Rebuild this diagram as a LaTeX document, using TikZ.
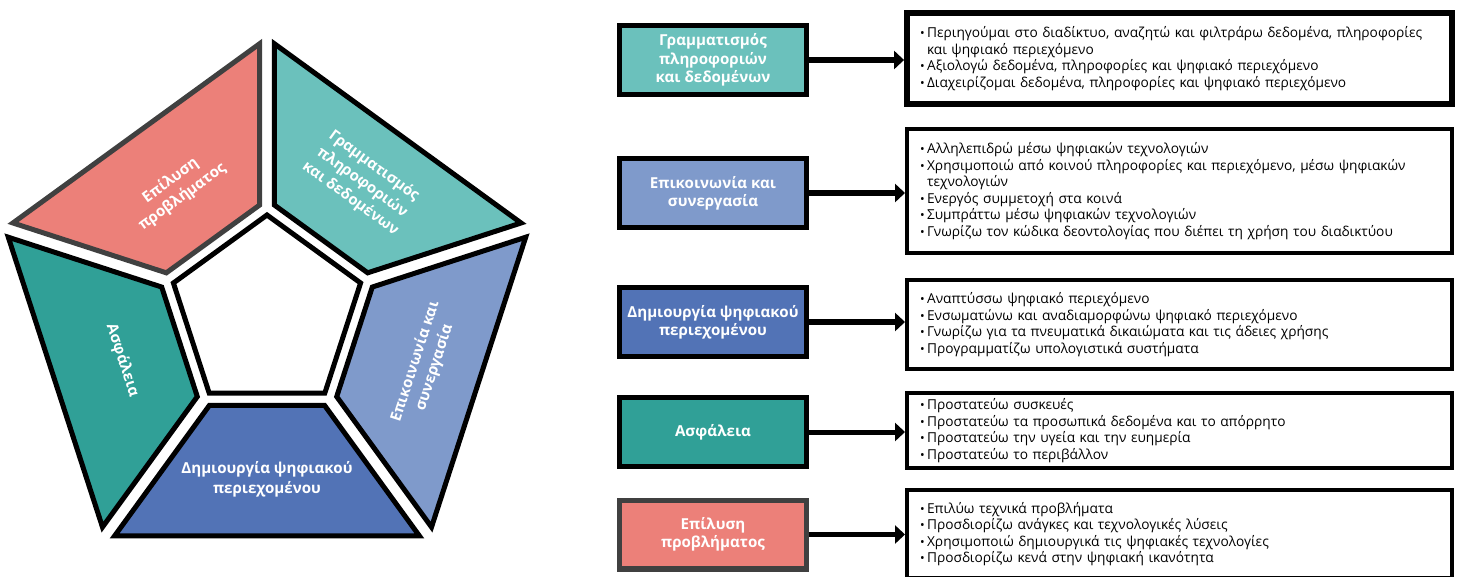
\documentclass[tikz,border=0pt]{standalone}
\usepackage{fontspec}
\setmainfont{Open Sans}
\usepackage{tikz}
\usetikzlibrary{arrows.meta}

\definecolor{tealL}{RGB}{107,193,188}
\definecolor{peri}{RGB}{127,154,203}
\definecolor{blueD}{RGB}{82,115,182}
\definecolor{tealD}{RGB}{48,160,151}
\definecolor{pinkS}{RGB}{236,128,121}
\definecolor{edgeG}{RGB}{64,64,64}

\newcommand{\pnt}{\makebox[4pt][l]{\scriptsize •}}
\newcommand{\cont}{\hspace*{4pt}}

\begin{document}
\begin{tikzpicture}[x=0.02cm,y=0.02cm,
  seg/.style={line width=2.85pt,line join=miter},
  lbl/.style={text=white,font=\bfseries\fontsize{8.6}{11.4}\selectfont,align=center},
  catbox/.style={draw,line width=2.85pt,minimum width=3.74cm,minimum height=1.38cm,
    text=white,align=center,font=\bfseries\fontsize{8.6}{10.4}\selectfont},
  listbox/.style={draw,line width=2.3pt,text width=10.38cm,inner xsep=0.26cm,
    align=left,font=\fontsize{7.8}{9.4}\selectfont},
  link/.style={line width=2.85pt,-{Triangle[length=0.2cm,width=0.36cm]}}]

\useasboundingbox (0,0) rectangle (1461,576);

\begin{scope}[shift={(267,262.6)}]
\foreach \ang/\col/\edg in {54/tealL/black,-18/peri/black,-90/blueD/black,198/tealD/black,126/pinkS/edgeG}
    \filldraw[seg,fill=\col,draw=\edg,rotate=\ang-90] (-152.4,222.5) -- (152.4,222.5) -- (57.6,92) -- (-57.6,92) -- cycle;
\filldraw[seg,fill=white] (90:98.4) -- (162:98.4) -- (234:98.4) -- (306:98.4) -- (18:98.4) -- cycle;

\node[lbl,rotate=-36] (p1) at (54:162) {Γραμματισμός\\πληροφοριών\\και δεδομένων};
\node[lbl,rotate=72] (p2) at (-18:166) {Επικοινωνία και\\συνεργασία};
\node[lbl] (p3) at (-90:166) {Δημιουργία ψηφιακού\\περιεχομένου};
\node[lbl,rotate=-72] (p4) at (198:152) {Ασφάλεια};
\node[lbl,rotate=36] (p5) at (126:154) {Επίλυση\\προβλήματος};
\end{scope}

\node[catbox,fill=tealL] (c1) at (713,516) {Γραμματισμός\\πληροφοριών\\και δεδομένων};
\node[catbox,fill=peri] (c2) at (713,383) {Επικοινωνία και\\συνεργασία};
\node[catbox,fill=blueD] (c3) at (713,254) {Δημιουργία ψηφιακού\\περιεχομένου};
\node[catbox,fill=tealD] (c4) at (713,144) {Ασφάλεια};
\node[catbox,fill=pinkS,draw=edgeG] (c5) at (713,41.5) {Επίλυση\\προβλήματος};

\node[listbox,line width=3.4pt,minimum height=1.82cm] (d1) at (1179.5,517.5) {\pnt Περιηγούμαι στο διαδίκτυο, αναζητώ και φιλτράρω δεδομένα, πληροφορίες\\
\cont και ψηφιακό περιεχόμενο\\
\pnt Αξιολογώ δεδομένα, πληροφορίες και ψηφιακό περιεχόμενο\\
\pnt Διαχειρίζομαι δεδομένα, πληροφορίες και ψηφιακό περιεχόμενο};
\node[listbox,minimum height=2.48cm] (d2) at (1179.5,385) {\pnt Αλληλεπιδρώ μέσω ψηφιακών τεχνολογιών\\
\pnt Χρησιμοποιώ από κοινού πληροφορίες και περιεχόμενο, μέσω ψηφιακών\\
\cont τεχνολογιών\\
\pnt Ενεργός συμμετοχή στα κοινά\\
\pnt Συμπράττω μέσω ψηφιακών τεχνολογιών\\
\pnt Γνωρίζω τον κώδικα δεοντολογίας που διέπει τη χρήση του διαδικτύου};
\node[listbox,minimum height=1.78cm] (d3) at (1179.5,251.5) {\pnt Αναπτύσσω ψηφιακό περιεχόμενο\\
\pnt Ενσωματώνω και αναδιαμορφώνω ψηφιακό περιεχόμενο\\
\pnt Γνωρίζω για τα πνευματικά δικαιώματα και τις άδειες χρήσης\\
\pnt Προγραμματίζω υπολογιστικά συστήματα};
\node[listbox,minimum height=1.42cm] (d4) at (1179.5,145.5) {\pnt Προστατεύω συσκευές\\
\pnt Προστατεύω τα προσωπικά δεδομένα και το απόρρητο\\
\pnt Προστατεύω την υγεία και την ευημερία\\
\pnt Προστατεύω το περιβάλλον};
\node[listbox,minimum height=1.76cm] (d5) at (1179.5,42) {\pnt Επιλύω τεχνικά προβλήματα\\
\pnt Προσδιορίζω ανάγκες και τεχνολογικές λύσεις\\
\pnt Χρησιμοποιώ δημιουργικά τις ψηφιακές τεχνολογίες\\
\pnt Προσδιορίζω κενά στην ψηφιακή ικανότητα};

\foreach \i in {1,...,5}
    \draw[link] (c\i.east) -- (c\i.east -| d\i.west);

\end{tikzpicture}
\end{document}
